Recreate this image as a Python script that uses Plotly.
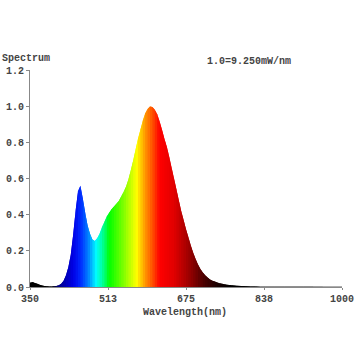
import plotly.graph_objects as go

wavelength = [350, 355, 360, 365, 370, 375, 380, 385, 390, 395,
              400, 405, 410, 415, 420, 425, 430, 435, 440, 445,
              450, 455, 460, 465, 470, 475, 480, 485, 490, 495,
              500, 505, 510, 515, 520, 525, 530, 535, 540, 545,
              550, 555, 560, 565, 570, 575, 580, 585, 590, 595,
              600, 605, 610, 615, 620, 625, 630, 635, 640, 645,
              650, 655, 660, 665, 670, 675, 680, 685, 690, 695,
              700, 705, 710, 715, 720, 725, 730, 735, 740, 745,
              750, 755, 760, 765, 770, 775, 780, 790, 800, 810,
              820, 830, 840, 860, 880, 900, 920, 940, 960, 980, 1000]
intensity = [0.025, 0.028, 0.022, 0.018, 0.012, 0.008, 0.006, 0.004, 0.003, 0.003,
             0.004, 0.006, 0.010, 0.018, 0.035, 0.065, 0.11, 0.18, 0.29, 0.42,
             0.53, 0.56, 0.49, 0.41, 0.34, 0.295, 0.262, 0.255, 0.27, 0.295,
             0.33, 0.36, 0.39, 0.41, 0.43, 0.445, 0.46, 0.475, 0.50, 0.525,
             0.555, 0.595, 0.645, 0.70, 0.76, 0.82, 0.87, 0.92, 0.96, 0.985,
             0.998, 0.995, 0.98, 0.955, 0.915, 0.87, 0.82, 0.775, 0.72, 0.66,
             0.60, 0.54, 0.48, 0.42, 0.37, 0.32, 0.275, 0.23, 0.19, 0.155,
             0.125, 0.10, 0.08, 0.065, 0.052, 0.042, 0.035, 0.03, 0.025, 0.021,
             0.018, 0.015, 0.013, 0.011, 0.009, 0.008, 0.007, 0.005, 0.004, 0.003,
             0.0025, 0.002, 0.0018, 0.0015, 0.0013, 0.0012, 0.0011, 0.001, 0.001, 0.001, 0.001]

x_tickvals = [350, 512.5, 675, 837.5, 1000]
x_ticktext = ["350", "513", "675", "838", "1000"]
y_tickvals = [0.0, 0.2, 0.4, 0.6, 0.8, 1.0, 1.2]

# wavelength -> colour stops (style)
stops = [(395, (0, 0, 0)), (410, (0, 0, 140)), (440, (0, 0, 230)), (455, (0, 40, 255)),
         (470, (0, 120, 255)), (488, (0, 255, 255)), (505, (0, 255, 120)), (515, (0, 255, 0)),
         (545, (128, 255, 0)), (572, (255, 255, 0)), (590, (255, 150, 0)), (605, (255, 80, 0)),
         (620, (255, 0, 0)), (650, (225, 0, 0)), (680, (160, 0, 0)), (710, (80, 0, 0)),
         (740, (25, 0, 0)), (770, (0, 0, 0))]


def wl_color(w):
    if w <= stops[0][0]:
        c = stops[0][1]
    elif w >= stops[-1][0]:
        c = stops[-1][1]
    else:
        for (w0, c0), (w1, c1) in zip(stops[:-1], stops[1:]):
            if w0 <= w <= w1:
                t = (w - w0) / (w1 - w0)
                c = tuple(round(a + (b - a) * t) for a, b in zip(c0, c1))
                break
    return "rgb(%d,%d,%d)" % c


fig = go.Figure()
n = len(wavelength)
for i in range(n - 1):
    # each piece reaches one point further, so the next piece overlays it (no seams)
    xs = wavelength[i:i + 3]
    ys = intensity[i:i + 3]
    col = wl_color((wavelength[i] + wavelength[i + 1]) / 2)
    fig.add_trace(go.Scatter(x=xs, y=ys, mode="none", fill="tozeroy",
                             fillcolor=col, hoverinfo="skip", showlegend=False))

font = dict(family="Liberation Mono, Courier New, monospace", size=10, color="#444", weight="bold")
axis_common = dict(showline=True, linecolor="#888", linewidth=1, ticks="outside",
                   tickcolor="#888", showgrid=False, zeroline=False, tickfont=font,
                   automargin=False)

PW, PH = 312, 217
fig.update_layout(
    width=360, height=360,
    margin=dict(l=30, r=18, t=70, b=73),
    plot_bgcolor="white", paper_bgcolor="white",
    xaxis=dict(range=[350, 1000], tickvals=x_tickvals, ticktext=x_ticktext, ticklen=2, **axis_common),
    yaxis=dict(range=[0, 1.2], tickvals=y_tickvals, tickformat=".1f", ticklen=3, **axis_common),
    annotations=[
        dict(text="Spectrum", xref="paper", yref="paper", x=-30 / PW, y=1 + 12 / PH,
             xanchor="left", yanchor="middle", showarrow=False, font=font),
        dict(text="1.0=9.250mW/nm", xref="paper", yref="paper", x=(205 - 30) / PW, y=1 + 8 / PH,
             xanchor="left", yanchor="middle", showarrow=False, font=font),
        dict(text="Wavelength(nm)", xref="paper", yref="paper", x=0.497, y=-19 / PH,
             xanchor="center", yanchor="top", showarrow=False, font=font, borderpad=0),
    ],
)

fig.write_html("out.html")
